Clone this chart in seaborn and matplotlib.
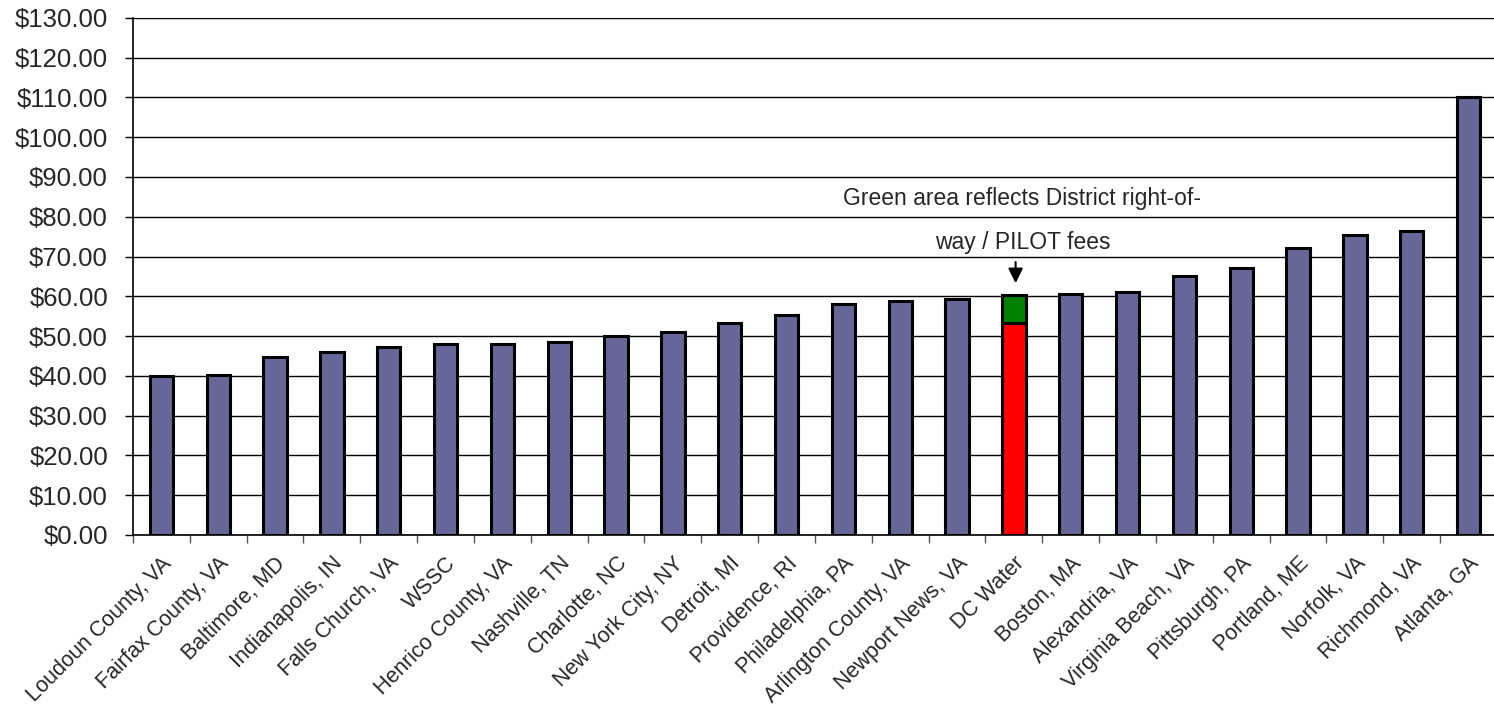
import numpy as np
import pandas as pd
import matplotlib
matplotlib.use("Agg")
import matplotlib.pyplot as plt
import seaborn as sns

categories = ["Loudoun County, VA", "Fairfax County, VA", "Baltimore, MD", "Indianapolis, IN",
              "Falls Church, VA", "WSSC", "Henrico County, VA", "Nashville, TN", "Charlotte, NC",
              "New York City, NY", "Detroit, MI", "Providence, RI", "Philadelphia, PA",
              "Arlington County, VA", "Newport News, VA", "DC Water", "Boston, MA",
              "Alexandria, VA", "Virginia Beach, VA", "Pittsburgh, PA", "Portland, ME",
              "Norfolk, VA", "Richmond, VA", "Atlanta, GA"]
totals = [40.0, 40.2, 44.7, 45.9, 47.3, 47.9, 48.0, 48.4, 50.1, 51.1, 53.2, 55.4,
          58.0, 58.9, 59.3, 60.3, 60.6, 61.2, 65.0, 67.0, 72.2, 75.3, 76.3, 110.1]
dc_base = 53.2  # red portion of DC Water; remainder (green) = right-of-way / PILOT fees
yticks = list(range(0, 131, 10))
ytick_labels = [f"${v:.2f}" for v in yticks]
note_line1 = "Green area reflects District right-of-"
note_line2 = "way / PILOT fees"

sns.set_theme(style="white")
plt.rcParams['font.family'] = ['Liberation Sans', 'DejaVu Sans']

bar_color = "#666699"
palette_total = {c: ("#008000" if c == "DC Water" else bar_color) for c in categories}
base_values = [dc_base if c == "DC Water" else np.nan for c in categories]

df = pd.DataFrame({"city": categories, "total": totals, "base": base_values})

fig = plt.figure(figsize=(14.94, 7.13), dpi=100)
ax = fig.add_axes([0.089, 0.2497, 0.913, 0.7253])

sns.barplot(data=df, x="city", y="total", hue="city", palette=palette_total,
            order=categories, hue_order=categories, legend=False, width=0.41,
            edgecolor="black", linewidth=2.2, saturation=1, ax=ax)
sns.barplot(data=df, x="city", y="base", hue="city",
            palette={c: "#FF0000" for c in categories},
            order=categories, hue_order=categories, legend=False, width=0.41,
            edgecolor="black", linewidth=2.2, saturation=1, ax=ax)

ax.set_ylim(0, 130)
ax.set_xlim(-0.5, len(categories) - 0.5)
ax.set_yticks(yticks)
ax.set_yticklabels(ytick_labels, fontsize=18.5)
ax.yaxis.grid(True, color="black", linewidth=1.0)
ax.set_axisbelow(True)

ax.set_xticks(range(len(categories)))
ax.set_xticklabels(categories, rotation=45, ha="right", rotation_mode="anchor", fontsize=15.5)
ax.set_xticks(np.arange(-0.5, len(categories), 1), minor=True)
ax.tick_params(axis="x", which="major", length=0, pad=13)
ax.tick_params(axis="x", which="minor", length=6, width=1, color="#555555", direction="out", bottom=True)
ax.tick_params(axis="y", which="major", length=6, width=1, color="black", direction="out", left=True, pad=12)

ax.set_xlabel("")
ax.set_ylabel("")
for s in ["top", "right"]:
    ax.spines[s].set_visible(False)
for s in ["left", "bottom"]:
    ax.spines[s].set_color("black")
    ax.spines[s].set_linewidth(1.2)

dc_idx = categories.index("DC Water")
ax.text(dc_idx + 0.15, 84.5, note_line1, ha="center", va="center", fontsize=16.5)
ax.text(dc_idx + 0.15, 73.4, note_line2, ha="center", va="center", fontsize=16.5)
ax.annotate("", xy=(dc_idx + 0.03, 62.6), xytext=(dc_idx + 0.03, 69.3),
            arrowprops=dict(arrowstyle="-|>", color="black", lw=1.5, mutation_scale=22))

fig.savefig("out.png", dpi=100)
